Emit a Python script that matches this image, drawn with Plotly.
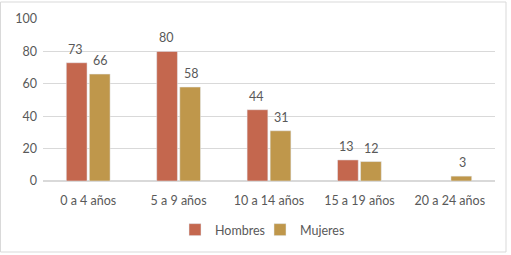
import plotly.graph_objects as go

categories = ["0 a 4 años", "5 a 9 años", "10 a 14 años", "15 a 19 años", "20 a 24 años"]
hombres = [73, 80, 44, 13, None]
mujeres = [66, 58, 31, 12, 3]
y_ticks = [0, 20, 40, 60, 80, 100]

W, H = 511, 255
L, R, T, B = 43, 16, 19, 74
pw, ph = W - L - R, H - T - B

def px_x(p):
    return (p - L) / pw

def px_y(p):
    return (H - B - p) / ph

font_family = "Lato, 'Open Sans', sans-serif"
gray = "#595959"
c_h, c_m = "#C4674E", "#BF974B"

fig = go.Figure()
fig.add_trace(go.Bar(x=categories, y=hombres, name="Hombres", marker_color=c_h))
fig.add_trace(go.Bar(x=categories, y=mujeres, name="Mujeres", marker_color=c_m))

annotations = []
for vals, shift in ((hombres, -12.5), (mujeres, 12.5)):
    for cat, v in zip(categories, vals):
        if v is None:
            continue
        annotations.append(dict(x=cat, y=v, xref="x", yref="y", text=str(v), showarrow=False,
                                xshift=shift, yshift=4, yanchor="bottom",
                                font=dict(size=12.5, color=gray, family=font_family)))

fig.update_layout(
    width=W, height=H,
    margin=dict(l=L, r=R, t=T, b=B, autoexpand=False),
    paper_bgcolor="white", plot_bgcolor="white",
    barmode="group", bargap=0.49, bargroupgap=0.1,
    font=dict(family=font_family, color=gray, size=12.5),
    showlegend=True,
    legend=dict(orientation="h", x=px_x(260), xanchor="center", y=px_y(230), yanchor="middle",
                font=dict(size=12.5, color=gray), itemwidth=30, traceorder="normal",
                entrywidth=40),
    annotations=annotations,
    shapes=[dict(type="rect", xref="paper", yref="paper",
                 x0=px_x(0.5), x1=px_x(506), y0=px_y(252), y1=px_y(2),
                 line=dict(color="#D9D9D9", width=1), fillcolor="rgba(0,0,0,0)", layer="below")],
)
fig.update_yaxes(range=[0, 100], tickvals=y_ticks, showgrid=True, gridcolor="#D9D9D9", gridwidth=1,
                 zeroline=True, zerolinecolor="#D9D9D9", showline=False, ticks="",
                 tickfont=dict(size=12.5, color=gray), ticklabelstandoff=5)
fig.update_xaxes(showgrid=False, showline=False, ticks="", tickfont=dict(size=12.5, color=gray),
                 ticklabelstandoff=10)

fig.write_html("out.html", config={"displayModeBar": False},
               post_script="document.body.style.margin='0';")
